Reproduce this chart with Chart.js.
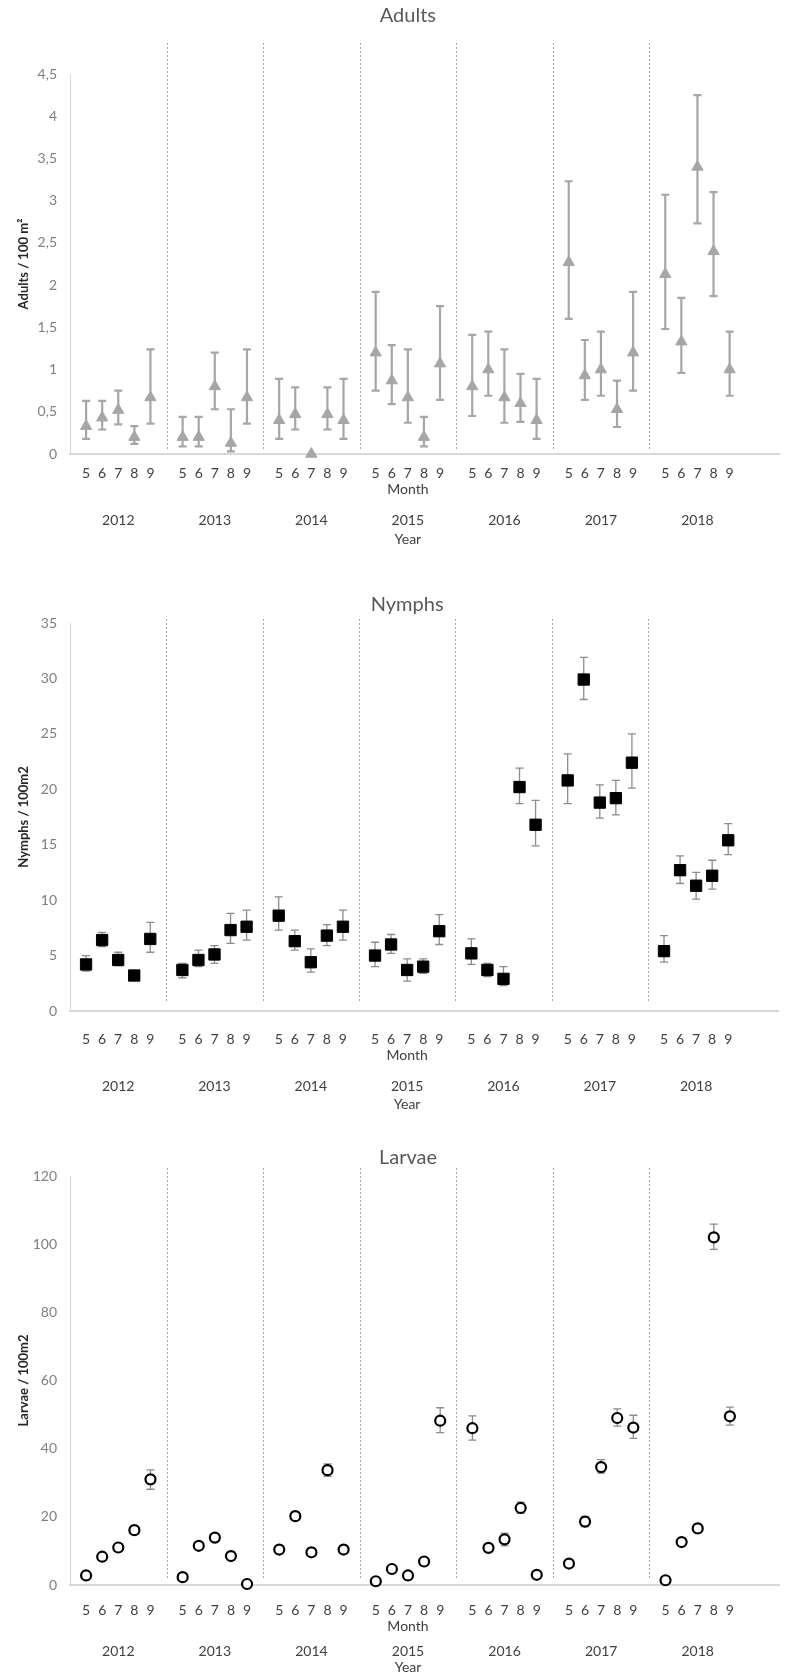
<!DOCTYPE html>
<html>
<head>
<meta charset="utf-8">
<script src="https://cdn.jsdelivr.net/npm/chart.js@4.4.0/dist/chart.umd.min.js"></script>
<style>
html, body { margin: 0; padding: 0; background: #fff; }
.panel { position: absolute; left: 0; width: 787px; }
canvas { display: block; }
</style>
</head>
<body>
<div class="panel" style="top:0px"><canvas id="adults" width="787" height="560"></canvas></div>
<div class="panel" style="top:540px"><canvas id="nymphs" width="787" height="580"></canvas></div>
<div class="panel" style="top:1100px"><canvas id="larvae" width="787" height="575"></canvas></div>
<script>
var years = ['2012', '2013', '2014', '2015', '2016', '2017', '2018'];
var monthLabels = ['5', '6', '7', '8', '9'];

// adults / 100 m2, months 5-9 for each year
var adultsMean = [
    0.33, 0.43, 0.52, 0.20, 0.67,
    0.20, 0.20, 0.80, 0.13, 0.67,
    0.40, 0.47, 0.00, 0.47, 0.40,
    1.20, 0.87, 0.67, 0.20, 1.07,
    0.80, 1.00, 0.67, 0.60, 0.40,
    2.27, 0.93, 1.00, 0.53, 1.20,
    2.13, 1.33, 3.40, 2.40, 1.00
];
var adultsLow = [
    0.18, 0.29, 0.35, 0.12, 0.36,
    0.09, 0.09, 0.53, 0.03, 0.36,
    0.18, 0.29, 0.00, 0.29, 0.18,
    0.75, 0.59, 0.37, 0.09, 0.64,
    0.45, 0.69, 0.37, 0.38, 0.18,
    1.60, 0.64, 0.69, 0.32, 0.75,
    1.48, 0.96, 2.73, 1.87, 0.69
];
var adultsHigh = [
    0.63, 0.63, 0.75, 0.33, 1.24,
    0.44, 0.44, 1.20, 0.53, 1.24,
    0.89, 0.79, 0.00, 0.79, 0.89,
    1.92, 1.29, 1.24, 0.44, 1.75,
    1.41, 1.45, 1.24, 0.95, 0.89,
    3.23, 1.35, 1.45, 0.87, 1.92,
    3.07, 1.85, 4.25, 3.10, 1.45
];

// nymphs / 100m2
var nymphsMean = [
    4.2, 6.4, 4.6, 3.2, 6.5,
    3.7, 4.6, 5.1, 7.3, 7.6,
    8.6, 6.3, 4.4, 6.8, 7.6,
    5.0, 6.0, 3.7, 4.0, 7.2,
    5.2, 3.7, 2.9, 20.2, 16.8,
    20.8, 29.9, 18.8, 19.2, 22.4,
    5.4, 12.7, 11.3, 12.2, 15.4
];
var nymphsLow = [
    3.6, 5.8, 4.1, 3.0, 5.3,
    3.0, 4.0, 4.3, 6.1, 6.4,
    7.3, 5.5, 3.5, 5.9, 6.4,
    4.0, 5.2, 2.7, 3.4, 6.0,
    4.2, 3.1, 2.3, 18.7, 14.9,
    18.7, 28.1, 17.4, 17.7, 20.1,
    4.4, 11.5, 10.1, 11.0, 14.1
];
var nymphsHigh = [
    5.0, 7.1, 5.3, 3.4, 8.0,
    4.3, 5.5, 5.9, 8.8, 9.1,
    10.3, 7.3, 5.6, 7.8, 9.1,
    6.2, 6.9, 4.7, 4.7, 8.7,
    6.5, 4.3, 4.0, 21.9, 19.0,
    23.2, 31.9, 20.4, 20.8, 25.0,
    6.8, 14.0, 12.5, 13.6, 16.9
];

// larvae / 100m2
var larvaeMean = [
    2.8, 8.3, 11.0, 16.1, 31.0,
    2.3, 11.5, 13.9, 8.5, 0.3,
    10.4, 20.2, 9.6, 33.7, 10.4,
    1.1, 4.7, 2.8, 6.9, 48.2,
    46.0, 10.9, 13.4, 22.6, 3.0,
    6.3, 18.6, 34.6, 49.0, 46.2,
    1.4, 12.6, 16.6, 102.0, 49.5
];
var larvaeLow = [
    2.4, 7.8, 10.4, 15.4, 28.1,
    2.0, 10.8, 13.0, 7.4, 0.1,
    9.2, 19.0, 8.4, 31.9, 9.2,
    0.8, 4.2, 2.4, 6.3, 44.7,
    42.5, 10.2, 11.5, 21.0, 2.6,
    5.7, 17.1, 32.8, 46.6, 43.0,
    1.1, 11.9, 15.4, 98.5, 46.9
];
var larvaeHigh = [
    3.2, 8.8, 11.6, 16.8, 33.8,
    2.6, 12.2, 14.8, 9.6, 0.5,
    11.6, 21.4, 10.8, 35.5, 11.6,
    1.4, 5.2, 3.2, 7.5, 52.0,
    49.6, 11.6, 15.2, 24.3, 3.4,
    6.9, 20.1, 36.8, 51.7, 49.8,
    1.7, 13.3, 17.8, 105.9, 52.2
];

var fontFamily = 'Lato, "Open Sans", sans-serif';

// six slots per year: five months and one gap
function slot(i) {
    return Math.floor(i / 5) * 6 + (i % 5) + 1;
}

function makePoints(mean, low, high) {
    var pts = [];
    for (var i = 0; i < mean.length; i++) {
        pts.push({ x: slot(i), y: mean[i], lo: low[i], hi: high[i] });
    }
    return pts;
}

var errorBars = {
    id: 'errorBars',
    beforeDatasetsDraw: function (chart, args, opts) {
        var ctx = chart.ctx;
        var xs = chart.scales.x;
        var ys = chart.scales.y;
        ctx.save();
        ctx.strokeStyle = opts.color;
        ctx.lineWidth = opts.width;
        chart.data.datasets[0].data.forEach(function (p) {
            if (p.hi === p.lo) {
                return;
            }
            var x = xs.getPixelForValue(p.x);
            var y1 = ys.getPixelForValue(p.lo);
            var y2 = ys.getPixelForValue(p.hi);
            ctx.beginPath();
            ctx.moveTo(x, y1);
            ctx.lineTo(x, y2);
            ctx.moveTo(x - opts.cap, y1);
            ctx.lineTo(x + opts.cap, y1);
            ctx.moveTo(x - opts.cap, y2);
            ctx.lineTo(x + opts.cap, y2);
            ctx.stroke();
        });
        ctx.restore();
    }
};

var yearFrame = {
    id: 'yearFrame',
    beforeDatasetsDraw: function (chart, args, opts) {
        // dotted separators between years
        var ctx = chart.ctx;
        var area = chart.chartArea;
        var xs = chart.scales.x;
        ctx.save();
        ctx.strokeStyle = '#a6a6a6';
        ctx.lineWidth = 1;
        ctx.setLineDash([2, 2]);
        for (var k = 1; k < years.length; k++) {
            var x = Math.round(xs.getPixelForValue(k * 6)) + 0.5;
            ctx.beginPath();
            ctx.moveTo(x, area.top - opts.sepAbove);
            ctx.lineTo(x, area.bottom - opts.sepBelow);
            ctx.stroke();
        }
        ctx.restore();
    },
    afterDraw: function (chart, args, opts) {
        var ctx = chart.ctx;
        var area = chart.chartArea;
        var xs = chart.scales.x;
        var mid = xs.getPixelForValue(21);
        ctx.save();
        ctx.textAlign = 'center';
        ctx.textBaseline = 'middle';

        ctx.fillStyle = '#595959';
        ctx.font = '20px ' + fontFamily;
        ctx.fillText(opts.title, mid, opts.titleY);

        ctx.fillStyle = '#404040';
        ctx.font = '14px ' + fontFamily;
        ctx.fillText('Month', mid, area.bottom + opts.monthY);
        for (var k = 0; k < years.length; k++) {
            ctx.fillText(years[k], xs.getPixelForValue(k * 6 + 3), area.bottom + opts.yearsY);
        }
        ctx.fillText('Year', mid, area.bottom + opts.yearTitleY);
        ctx.restore();
    }
};

function makeChart(id, cfg) {
    var el = document.getElementById(id);
    var axisHeight = el.height - cfg.bottom;
    return new Chart(el, {
        type: 'scatter',
        data: {
            datasets: [{
                data: makePoints(cfg.mean, cfg.low, cfg.high),
                pointStyle: cfg.pointStyle,
                pointRadius: cfg.radius,
                pointBackgroundColor: cfg.fill,
                pointBorderColor: cfg.stroke,
                pointBorderWidth: cfg.strokeWidth,
                clip: false
            }]
        },
        options: {
            responsive: false,
            animation: false,
            devicePixelRatio: 1,
            layout: { padding: { top: cfg.top, bottom: 0, left: 0, right: 0 } },
            plugins: {
                legend: { display: false },
                tooltip: { enabled: false },
                errorBars: { color: cfg.barColor, width: cfg.barWidth, cap: 4 },
                yearFrame: {
                    title: cfg.title, titleY: cfg.titleY,
                    sepAbove: cfg.sepAbove, sepBelow: cfg.sepBelow,
                    monthY: cfg.labels[1], yearsY: cfg.labels[2], yearTitleY: cfg.labels[3]
                }
            },
            scales: {
                x: {
                    type: 'linear',
                    min: 0,
                    max: 44.1,
                    afterFit: function (s) { s.height = axisHeight; },
                    afterBuildTicks: function (s) {
                        var t = [];
                        for (var i = 0; i < cfg.mean.length; i++) {
                            t.push({ value: slot(i) });
                        }
                        s.ticks = t;
                    },
                    ticks: {
                        autoSkip: false,
                        maxRotation: 0,
                        padding: cfg.labels[0],
                        color: '#404040',
                        font: { family: fontFamily, size: 14 },
                        callback: function (v) { return monthLabels[(v - 1) % 6]; }
                    },
                    grid: { display: false, drawTicks: false },
                    border: { color: '#d9d9d9', width: 2 }
                },
                y: {
                    min: 0,
                    max: cfg.max,
                    afterFit: function (s) { s.width = 70; },
                    ticks: {
                        stepSize: cfg.step,
                        padding: 13,
                        color: '#7f7f7f',
                        font: { family: fontFamily, size: 14 },
                        callback: function (v) { return String(v).replace('.', ','); }
                    },
                    grid: { display: false, drawTicks: false },
                    border: { color: '#d9d9d9', width: 1 },
                    title: {
                        display: true,
                        text: cfg.yTitle,
                        color: '#262626',
                        font: { family: fontFamily, size: 13, weight: 'bold' },
                        padding: { top: 16, bottom: 0 }
                    }
                }
            }
        },
        plugins: [errorBars, yearFrame]
    });
}

makeChart('adults', {
    mean: adultsMean, low: adultsLow, high: adultsHigh,
    max: 4.5, step: 0.5, yTitle: 'Adults / 100 m²', title: 'Adults',
    top: 74, bottom: 454, titleY: 16, sepAbove: 31, sepBelow: 4,
    labels: [11, 35, 66, 85],
    pointStyle: 'triangle', radius: 6.5, fill: '#a6a6a6', stroke: '#a6a6a6', strokeWidth: 1,
    barColor: '#a6a6a6', barWidth: 2.2
});

makeChart('nymphs', {
    mean: nymphsMean, low: nymphsLow, high: nymphsHigh,
    max: 35, step: 5, yTitle: 'Nymphs / 100m2', title: 'Nymphs',
    top: 83, bottom: 471, titleY: 65, sepAbove: 4, sepBelow: 10,
    labels: [20, 44, 75, 93],
    pointStyle: 'rect', radius: 8, fill: '#000000', stroke: '#000000', strokeWidth: 1,
    barColor: '#8c8c8c', barWidth: 1.3
});

makeChart('larvae', {
    mean: larvaeMean, low: larvaeLow, high: larvaeHigh,
    max: 120, step: 20, yTitle: 'Larvae / 100m2', title: 'Larvae',
    top: 76, bottom: 485, titleY: 58, sepAbove: 8, sepBelow: 6,
    labels: [17, 41, 66, 82],
    pointStyle: 'circle', radius: 5, fill: '#ffffff', stroke: '#000000', strokeWidth: 2.2,
    barColor: '#8c8c8c', barWidth: 1.3
});
</script>
</body>
</html>
